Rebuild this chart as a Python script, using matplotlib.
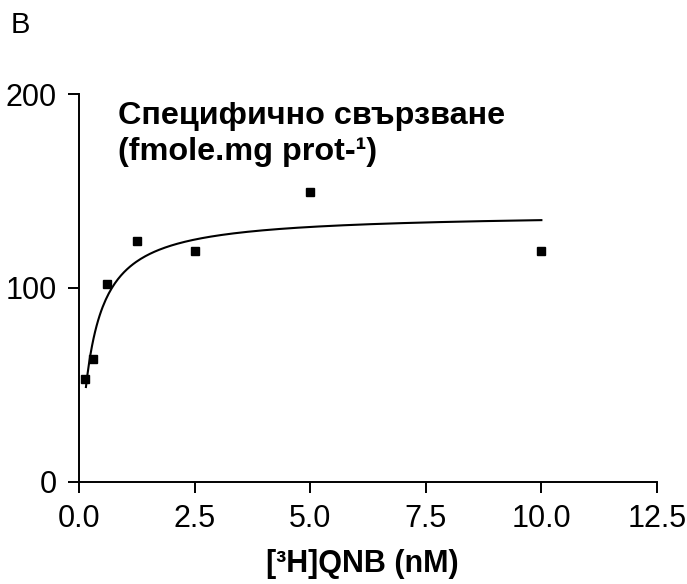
import matplotlib.pyplot as plt
import numpy as np

plt.rcParams['font.family'] = ['Liberation Sans', 'DejaVu Sans']

# saturation binding data
conc = [0.12, 0.3, 0.6, 1.25, 2.5, 5.0, 10.0]      # [3H]QNB, nM
bound = [53, 63.5, 102, 124, 119, 149.5, 119]     # fmole/mg protein

# one-site hyperbola fit
bmax = 138.7
kd = 0.275
fit_range = [0.15, 10.0]

x_ticks = [0.0, 2.5, 5.0, 7.5, 10.0, 12.5]
y_ticks = [0, 100, 200]

fig = plt.figure(figsize=(6.87, 5.84), dpi=100)
ax = fig.add_axes([0.115, 0.1747, 0.8413, 0.6643])

xf = np.linspace(fit_range[0], fit_range[1], 300)
ax.plot(xf, bmax * xf / (kd + xf), color='black', lw=1.5, zorder=2)
ax.plot(conc, bound, 's', color='black', ms=5.5, zorder=3, clip_on=False)

ax.set_xlim(0, 12.5)
ax.set_ylim(0, 200)
ax.set_xticks(x_ticks)
ax.set_xticklabels(['%.1f' % t for t in x_ticks])
ax.set_yticks(y_ticks)

for s in ['top', 'right']:
    ax.spines[s].set_visible(False)
for s in ['left', 'bottom']:
    ax.spines[s].set_linewidth(1.4)
ax.tick_params(direction='out', length=8, width=1.4, labelsize=22, pad=8)

ax.text(0.84, 184.5, 'Специфично свързване', fontsize=23.3, fontweight='bold', va='baseline')
ax.text(0.84, 166, '(fmole.mg prot-¹)', fontsize=23.3, fontweight='bold', va='baseline')

fig.text(0.528, 0.0205, '[³H]QNB (nM)', fontsize=22, fontweight='bold',
         ha='center', va='baseline')
fig.text(0.0156, 1 - 33 / 584, 'B', fontsize=21, va='baseline')

fig.savefig('out.png', dpi=100)
